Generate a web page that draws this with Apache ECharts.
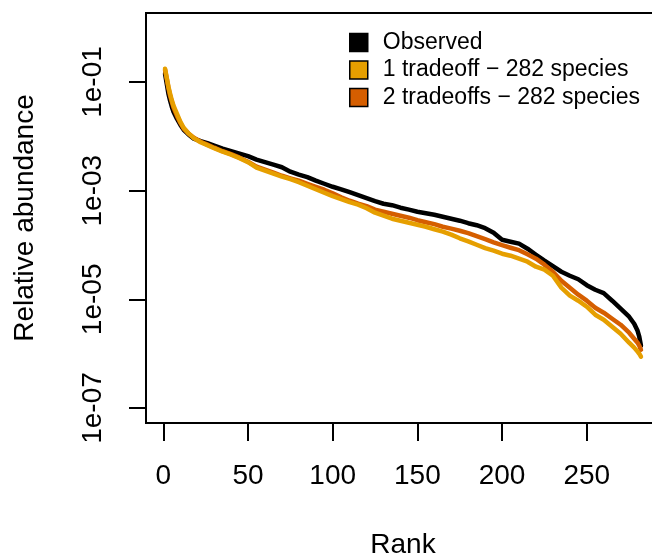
<!DOCTYPE html>
<html>
<head>
<meta charset="utf-8">
<script src="https://cdn.jsdelivr.net/npm/echarts@6/dist/echarts.min.js"></script>
<style>
  html, body { margin: 0; padding: 0; background: #fff; }
  #chart { width: 652px; height: 558px; }
</style>
</head>
<body>
<div id="chart"></div>
<script>
// rank positions
const ranks = [1, 2, 3, 4, 5, 6, 8, 10, 12, 15, 18, 22, 26, 30, 35, 40, 45, 50, 55, 60,
  65, 70, 75, 80, 85, 90, 95, 100, 105, 110, 115, 120, 125, 130, 135, 140, 145, 150, 155, 160,
  165, 170, 175, 180, 185, 190, 195, 200, 205, 210, 215, 220, 225, 230, 235, 240, 245, 250, 255, 260,
  265, 270, 275, 278, 280, 281, 282];

// relative abundance at each rank
const observed = [0.142, 0.093, 0.061, 0.0453, 0.0351, 0.0284, 0.0211, 0.0164, 0.0132, 0.0107,
  0.00904, 0.00813, 0.00748, 0.00673, 0.00592, 0.00532, 0.00479, 0.00431, 0.00372, 0.00334,
  0.00301, 0.00270, 0.00223, 0.00197, 0.00177, 0.00153, 0.00134, 0.00118, 0.00106, 0.000937,
  0.000824, 0.000726, 0.000640, 0.000575, 0.000540, 0.000486, 0.000447, 0.000410, 0.000385, 0.000361,
  0.000332, 0.000305, 0.000280, 0.000252, 0.000231, 0.000204, 0.000168, 0.000125, 0.000115, 0.000106,
  8.55e-5, 6.62e-5, 5.14e-5, 4.07e-5, 3.22e-5, 2.72e-5, 2.34e-5, 1.82e-5, 1.50e-5, 1.30e-5,
  9.44e-6, 6.73e-6, 4.79e-6, 3.56e-6, 2.64e-6, 2.05e-6, 1.40e-6];

const oneTradeoff = [0.176, 0.120, 0.082, 0.061, 0.0462, 0.0366, 0.0261, 0.0186, 0.0144, 0.0112,
  0.00925, 0.00780, 0.00687, 0.00605, 0.00521, 0.00459, 0.00396, 0.00334, 0.00265, 0.00233,
  0.00205, 0.00181, 0.00163, 0.00143, 0.00123, 0.00106, 0.000917, 0.000791, 0.000697, 0.000614,
  0.000552, 0.000475, 0.000393, 0.000346, 0.000305, 0.000280, 0.000257, 0.000236, 0.000217, 0.000195,
  0.000176, 0.000155, 0.000133, 0.000117, 0.000101, 8.73e-5, 7.85e-5, 6.92e-5, 6.35e-5, 5.60e-5,
  4.92e-5, 3.98e-5, 3.51e-5, 2.72e-5, 1.64e-5, 1.17e-5, 9.44e-6, 7.31e-6, 5.21e-6, 4.22e-6,
  3.13e-6, 2.33e-6, 1.59e-6, 1.29e-6, 1.09e-6, 9.98e-7, 8.79e-7];

const twoTradeoffs = [0.168, 0.115, 0.0785, 0.056, 0.0434, 0.0337, 0.0240, 0.0178, 0.0138, 0.0112,
  0.00944, 0.00796, 0.00702, 0.00618, 0.00532, 0.00469, 0.00405, 0.00341, 0.00276, 0.00243,
  0.00214, 0.00188, 0.00169, 0.00153, 0.00134, 0.00118, 0.00104, 0.000898, 0.000758, 0.000653,
  0.000575, 0.000518, 0.000447, 0.000410, 0.000377, 0.000346, 0.000318, 0.000286, 0.000263, 0.000242,
  0.000217, 0.000200, 0.000183, 0.000165, 0.000145, 0.000128, 0.000112, 9.91e-5, 8.91e-5, 8.02e-5,
  6.76e-5, 5.60e-5, 4.34e-5, 3.22e-5, 2.20e-5, 1.64e-5, 1.22e-5, 9.44e-6, 7.01e-6, 5.68e-6,
  4.40e-6, 3.41e-6, 2.43e-6, 1.88e-6, 1.59e-6, 1.40e-6, 1.18e-6];

const xTicks = [0, 50, 100, 150, 200, 250];
const yTicks = [-7, -5, -3, -1]; // log10 of 1e-07 ... 1e-01

const seriesNames = ['Observed', '1 tradeoff \u2212 282 species', '2 tradeoffs \u2212 282 species'];
const colors = ['#000000', '#E69F00', '#D55E00'];

const FONT = '"Liberation Sans", Arial, Helvetica, sans-serif';

function toPoints(values) {
  return ranks.map((r, i) => [r, Math.log10(values[i])]);
}

const chart = echarts.init(document.getElementById('chart'), null, { renderer: 'canvas' });

chart.setOption({
  animation: false,
  backgroundColor: '#fff',
  textStyle: { fontFamily: FONT },
  grid: {
    left: 146, top: 13, width: 514, height: 410,
    show: true, borderColor: '#000', borderWidth: 2,
    containLabel: false, outerBoundsMode: 'none'
  },
  legend: {
    orient: 'vertical',
    left: 344, top: 26,
    itemWidth: 18, itemHeight: 18, itemGap: 4.5,
    icon: 'rect',
    itemStyle: { borderColor: '#000', borderWidth: 1.5 },
    textStyle: { fontFamily: FONT, fontSize: 23, color: '#000', lineHeight: 23, padding: [0, 0, 0, 10] },
    data: seriesNames
  },
  xAxis: {
    type: 'value',
    min: -10.24, max: 293.24,
    name: 'Rank', nameLocation: 'middle', nameGap: 108,
    nameTextStyle: { fontFamily: FONT, fontSize: 28, color: '#000' },
    axisLine: { show: true, onZero: false, lineStyle: { color: '#000', width: 2 } },
    axisTick: { show: true, customValues: xTicks, length: 18, lineStyle: { color: '#000', width: 2 } },
    axisLabel: { customValues: xTicks, margin: 39, fontSize: 28, color: '#000', fontFamily: FONT },
    splitLine: { show: false }
  },
  yAxis: {
    type: 'value',
    min: -7.276, max: 0.27,
    name: 'Relative abundance', nameLocation: 'middle', nameGap: 107,
    nameTextStyle: { fontFamily: FONT, fontSize: 28, color: '#000' },
    axisLine: { show: true, onZero: false, lineStyle: { color: '#000', width: 2 } },
    axisTick: { show: true, customValues: yTicks, length: 17, lineStyle: { color: '#000', width: 2 } },
    axisLabel: {
      customValues: yTicks, margin: 39, fontSize: 28, color: '#000', fontFamily: FONT, rotate: 90,
      formatter: v => '1e-0' + Math.round(-v)
    },
    splitLine: { show: false }
  },
  series: [
    { name: seriesNames[0], type: 'line', data: toPoints(observed), color: colors[0], z: 2 },
    { name: seriesNames[2], type: 'line', data: toPoints(twoTradeoffs), color: colors[2], z: 3 },
    { name: seriesNames[1], type: 'line', data: toPoints(oneTradeoff), color: colors[1], z: 4 }
  ].map(s => Object.assign(s, {
    showSymbol: false, symbol: 'none',
    lineStyle: { width: 4.5, cap: 'round', join: 'round' }
  }))
});
</script>
</body>
</html>
